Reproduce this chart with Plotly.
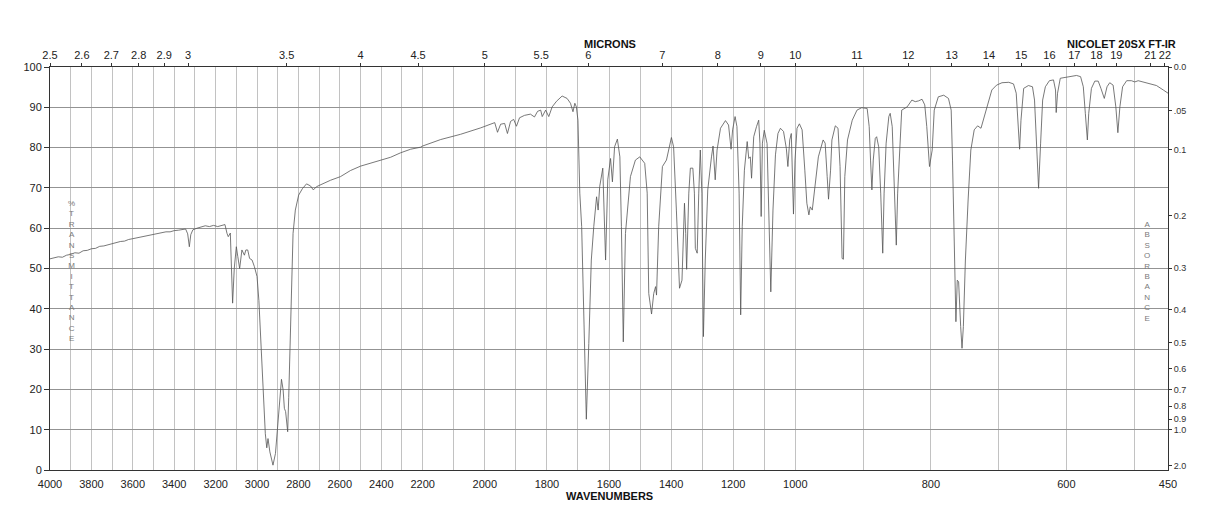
import numpy as np
import plotly.graph_objects as go

# ---------------- data ----------------
wavenumbers = [
    4000, 3980, 3960, 3940, 3920, 3900, 3880, 3860, 3840, 3820, 3800, 3780, 3760, 3740, 3720,
    3700, 3680, 3660, 3640, 3620, 3600, 3580, 3560, 3540, 3520, 3500, 3480, 3460, 3440, 3420,
    3400, 3380, 3360, 3345, 3335, 3327, 3320, 3310, 3290, 3270, 3250, 3230, 3210, 3190, 3170,
    3155, 3145, 3139, 3129, 3118, 3110, 3100, 3093, 3084, 3073, 3061, 3054, 3045, 3036, 3024,
    3013, 3000, 2991, 2984, 2971, 2960, 2953, 2947, 2938, 2923, 2911, 2900, 2891, 2882, 2874,
    2868, 2862, 2852, 2847, 2842, 2834, 2826, 2815, 2799, 2781, 2761, 2742, 2728, 2713, 2694,
    2670, 2645, 2597, 2549, 2500, 2452, 2403, 2355, 2307, 2258, 2210, 2200, 2142, 2078, 2013,
    1994, 1981, 1968, 1959, 1949, 1936, 1927, 1917, 1907, 1898, 1888, 1872, 1853, 1840, 1830,
    1820, 1815, 1804, 1794, 1783, 1769, 1751, 1735, 1724, 1716, 1710, 1705, 1700, 1694, 1688,
    1681, 1673, 1665, 1657, 1649, 1640, 1635, 1630, 1620, 1611, 1604, 1595, 1589, 1582, 1573,
    1565, 1560, 1554, 1547, 1540, 1531, 1515, 1501, 1485, 1477, 1472, 1463, 1456, 1450, 1447,
    1440, 1428, 1415, 1399, 1392, 1383, 1373, 1365, 1357, 1353, 1350, 1343, 1338, 1330, 1325,
    1322, 1316, 1311, 1306, 1301, 1296, 1290, 1282, 1270, 1265, 1258, 1252, 1241, 1225, 1215,
    1207, 1202, 1194, 1188, 1181, 1176, 1171, 1164, 1155, 1150, 1145, 1141, 1134, 1125, 1118,
    1114, 1110, 1106, 1100, 1091, 1085, 1079, 1072, 1064, 1056, 1048, 1038, 1029, 1024, 1018,
    1013, 1009, 1006, 1001, 997.5, 994, 990, 986, 983, 980, 978, 975, 972, 966, 959,
    956, 953, 951, 948, 946, 941, 937, 934, 931, 929, 927, 923, 916, 909, 902,
    894, 891, 889, 887, 885, 882, 880, 877, 874, 871, 869, 866, 862, 860, 857,
    854, 851, 849, 845, 843, 835, 828, 823, 818, 813, 809, 806, 802, 798, 795,
    789, 781, 774, 770, 768, 766, 764, 763, 761, 759, 756, 754, 752, 749, 745,
    741, 736, 731, 726, 721, 716, 710, 703, 695, 685, 678, 674, 672, 669, 667,
    663, 656, 650, 647, 644, 641, 638, 635, 631, 625, 619, 616, 615, 613, 609,
    602, 592, 585, 579, 575, 572, 569, 567, 563, 558, 553, 549, 544, 540, 536,
    531, 527, 524, 521, 517, 511, 504, 499, 494, 486, 477, 467, 457, 450,
]
transmittance = [
    52.4, 52.6, 52.9, 52.8, 53.3, 53.5, 53.9, 53.8, 54.4, 54.5, 54.9, 55.0, 55.5, 55.6, 55.9,
    56.2, 56.4, 56.7, 56.8, 57.2, 57.4, 57.6, 57.9, 58.0, 58.3, 58.4, 58.7, 58.8, 59.1, 59.1,
    59.4, 59.5, 59.6, 59.8, 58.6, 55.4, 58.4, 59.6, 60.0, 60.3, 60.6, 60.4, 60.7, 60.4, 60.6,
    60.9, 58.7, 57.9, 58.8, 41.4, 50.0, 55.4, 53.0, 50.0, 54.6, 53.3, 54.6, 54.6, 52.5, 52.1,
    50.5, 48.0, 42.0, 34.7, 19.9, 9.0, 5.5, 7.8, 4.5, 1.2, 4.1, 11.6, 18.2, 22.5, 19.9,
    15.3, 14.5, 9.5, 18.0, 28.1, 44.7, 58.7, 64.5, 68.2, 69.8, 71.0, 70.5, 69.5, 70.3, 70.8,
    71.4, 71.9, 72.8, 74.3, 75.4, 76.1, 76.9, 77.6, 78.7, 79.6, 80.1, 80.4, 82.0, 83.3, 84.9,
    85.5, 85.8, 86.2, 83.8, 85.8, 86.0, 83.5, 86.5, 87.0, 85.3, 87.4, 88.0, 88.3, 87.6, 89.0,
    89.3, 87.7, 89.3, 87.7, 90.1, 91.5, 92.8, 92.2, 91.0, 88.9, 91.0, 90.1, 86.8, 68.7, 60.4,
    35.6, 12.6, 31.4, 52.1, 60.4, 67.8, 64.5, 70.3, 74.9, 52.1, 72.0, 77.3, 71.5, 80.2, 82.1,
    77.7, 60.4, 31.8, 58.7, 64.5, 72.8, 76.9, 77.7, 76.1, 68.7, 43.8, 38.7, 43.8, 45.5, 43.4,
    60.4, 75.3, 76.9, 82.5, 80.2, 64.5, 45.1, 47.1, 66.2, 58.7, 49.8, 68.7, 74.9, 74.9, 68.7,
    55.0, 53.8, 68.7, 79.4, 68.7, 33.1, 52.1, 69.5, 77.7, 80.4, 72.0, 79.4, 84.8, 86.7, 85.6,
    79.6, 84.4, 87.7, 85.2, 68.7, 38.5, 60.4, 74.4, 81.5, 77.3, 77.7, 72.4, 82.7, 85.2, 86.8,
    81.1, 62.9, 81.1, 84.3, 81.0, 64.5, 44.2, 64.5, 78.2, 83.5, 84.8, 84.0, 79.8, 75.3, 81.9,
    83.5, 68.7, 63.5, 76.9, 84.8, 85.9, 84.4, 74.4, 66.2, 63.3, 65.3, 64.5, 68.7, 77.7, 81.9,
    81.1, 72.8, 67.2, 74.4, 81.9, 85.4, 84.8, 75.3, 52.5, 52.3, 72.8, 81.9, 86.8, 89.3, 89.9,
    89.7, 85.2, 76.9, 69.5, 76.9, 82.3, 82.7, 80.2, 68.7, 53.8, 68.7, 81.1, 87.7, 88.5, 85.2,
    68.7, 55.8, 68.7, 82.0, 89.3, 90.1, 91.8, 91.4, 91.6, 92.0, 90.6, 85.2, 75.3, 79.4, 89.3,
    92.6, 93.0, 92.2, 89.3, 76.9, 56.3, 37.2, 36.8, 47.1, 46.7, 35.6, 30.2, 35.6, 52.1, 67.0,
    79.4, 84.4, 85.4, 84.8, 87.7, 91.0, 94.3, 95.5, 96.1, 96.2, 95.8, 93.5, 86.8, 79.6, 86.8,
    94.7, 95.4, 95.1, 91.8, 80.2, 69.9, 81.1, 91.8, 95.1, 96.6, 96.8, 94.3, 88.7, 93.5, 97.2,
    97.4, 97.6, 97.9, 97.6, 95.1, 88.5, 81.9, 88.5, 94.7, 96.5, 96.5, 94.7, 92.2, 95.1, 96.1,
    95.5, 90.1, 83.7, 90.1, 95.1, 96.6, 96.6, 96.3, 96.6, 96.3, 95.9, 95.4, 94.3, 93.5,
]

wavenumber_labels = [4000, 3800, 3600, 3400, 3200, 3000, 2800, 2600, 2400, 2200,
                     2000, 1800, 1600, 1400, 1200, 1000, 800, 600, 450]
grid_wavenumbers = list(range(4000, 499, -100)) + [450]
micron_ticks = [2.5, 2.6, 2.7, 2.8, 2.9, 3, 3.5, 4, 4.5, 5, 5.5, 6, 7, 8, 9, 10, 11,
                12, 13, 14, 15, 16, 17, 18, 19, 21, 22]
micron_labels = ["2.5", "2.6", "2.7", "2.8", "2.9", "3", "3.5", "4", "4.5", "5", "5.5",
                 "6", "7", "8", "9", "10", "11", "12", "13", "14", "15", "16", "17",
                 "18", "19", "21", "22"]
absorbance_ticks = [0.0, 0.05, 0.1, 0.2, 0.3, 0.4, 0.5, 0.6, 0.7, 0.8, 0.9, 1.0, 2.0]
absorbance_labels = ["0.0", ".05", "0.1", "0.2", "0.3", "0.4", "0.5", "0.6", "0.7",
                     "0.8", "0.9", "1.0", "2.0"]
transmittance_ticks = list(range(0, 101, 10))


# piecewise-linear wavenumber scale of the chart (4000-2200, 2200-1000, 1000-450)
def to_u(wn):
    wn = np.asarray(wn, dtype=float)
    return np.where(wn >= 2200, (4000 - wn) / 1800,
                    np.where(wn >= 1000, 1 + (2200 - wn) / 1200, 2 + (1000 - wn) / 550))


FONT = "Liberation Sans, Arial, Helvetica, sans-serif"
grid_text = [str(w) if w in wavenumber_labels else "" for w in grid_wavenumbers]

fig = go.Figure()
fig.add_trace(go.Scatter(
    x=to_u(wavenumbers), y=transmittance, mode="lines",
    line=dict(color="#555555", width=0.8), hoverinfo="skip", showlegend=False,
))
fig.add_trace(go.Scatter(
    x=[0, 3], y=[0, 100], mode="markers", marker=dict(opacity=0),
    xaxis="x2", yaxis="y2", hoverinfo="skip", showlegend=False,
))

fig.update_layout(
    width=1218, height=528,
    margin=dict(l=50, r=50, t=67, b=58),
    paper_bgcolor="white", plot_bgcolor="white",
    font=dict(family=FONT, color="#222222", size=11),
    xaxis=dict(
        range=[0, 3], tickmode="array", tickvals=to_u(grid_wavenumbers), ticktext=grid_text,
        showgrid=True, gridcolor="#c2c2c2", gridwidth=1, zeroline=False,
        showline=True, linecolor="#333333", linewidth=1,
        ticks="outside", ticklen=4, tickcolor="white",
        tickfont=dict(size=11, family=FONT, color="#222222"),
    ),
    xaxis2=dict(
        range=[0, 3], overlaying="x", side="top", anchor="y2",
        tickmode="array", tickvals=to_u([10000 / m for m in micron_ticks]),
        ticktext=micron_labels, showgrid=False, zeroline=False,
        showline=True, linecolor="#333333", linewidth=1,
        ticks="outside", ticklen=3, tickcolor="#333333",
        tickfont=dict(size=11, family=FONT, color="#222222"),
    ),
    yaxis=dict(
        range=[0, 100], tickmode="array", tickvals=transmittance_ticks,
        showgrid=True, gridcolor="#939393", gridwidth=1, zeroline=False,
        showline=True, linecolor="#333333", linewidth=1,
        ticks="outside", ticklen=5, tickcolor="#333333",
        tickfont=dict(size=11, family=FONT, color="#222222"),
    ),
    yaxis2=dict(
        range=[0, 100], overlaying="y", side="right", anchor="x2",
        tickmode="array",
        tickvals=[100 * 10 ** (-a) for a in absorbance_ticks], ticktext=absorbance_labels,
        showgrid=False, zeroline=False, showline=True, linecolor="#333333", linewidth=1,
        ticks="outside", ticklen=3, tickcolor="#333333",
        tickfont=dict(size=9, family=FONT, color="#333333"),
    ),
)

# white patches hiding the gridlines behind the vertical axis captions
fig.add_shape(type="rect", xref="paper", yref="paper", layer="between",
              x0=(64 - 50) / 1118, x1=(78 - 50) / 1118,
              y0=(470 - 343) / 403, y1=(470 - 198) / 403,
              fillcolor="white", line=dict(width=0))
fig.add_shape(type="rect", xref="paper", yref="paper", layer="between",
              x0=(1140 - 50) / 1118, x1=(1154 - 50) / 1118,
              y0=(470 - 324) / 403, y1=(470 - 218) / 403,
              fillcolor="white", line=dict(width=0))

fig.add_annotation(text="<b>MICRONS</b>", xref="paper", yref="paper",
                   x=(610 - 50) / 1118, y=(470 - 44) / 403, showarrow=False,
                   xanchor="center", yanchor="middle", font=dict(size=11, family=FONT, color="#111"))
fig.add_annotation(text="<b>NICOLET 20SX FT-IR</b>", xref="paper", yref="paper",
                   x=(1121 - 50) / 1118, y=(470 - 44) / 403, showarrow=False,
                   xanchor="center", yanchor="middle", font=dict(size=11, family=FONT, color="#111"))
fig.add_annotation(text="<b>WAVENUMBERS</b>", xref="paper", yref="paper",
                   x=(609 - 50) / 1118, y=(470 - 496) / 403, showarrow=False,
                   xanchor="center", yanchor="middle", font=dict(size=11, family=FONT, color="#111"))
fig.add_annotation(text="<br>".join(list("%TRANSMITTANCE")), xref="paper", yref="paper",
                   x=(71 - 50) / 1118, y=(470 - 270.5) / 403, showarrow=False,
                   xanchor="center", yanchor="middle",
                   font=dict(size=8, family=FONT, color="#7a7a7a"))
fig.add_annotation(text="<br>".join(list("ABSORBANCE")), xref="paper", yref="paper",
                   x=(1147 - 50) / 1118, y=(470 - 271) / 403, showarrow=False,
                   xanchor="center", yanchor="middle",
                   font=dict(size=8, family=FONT, color="#7a7a7a"))

fig.write_html("out.html")
